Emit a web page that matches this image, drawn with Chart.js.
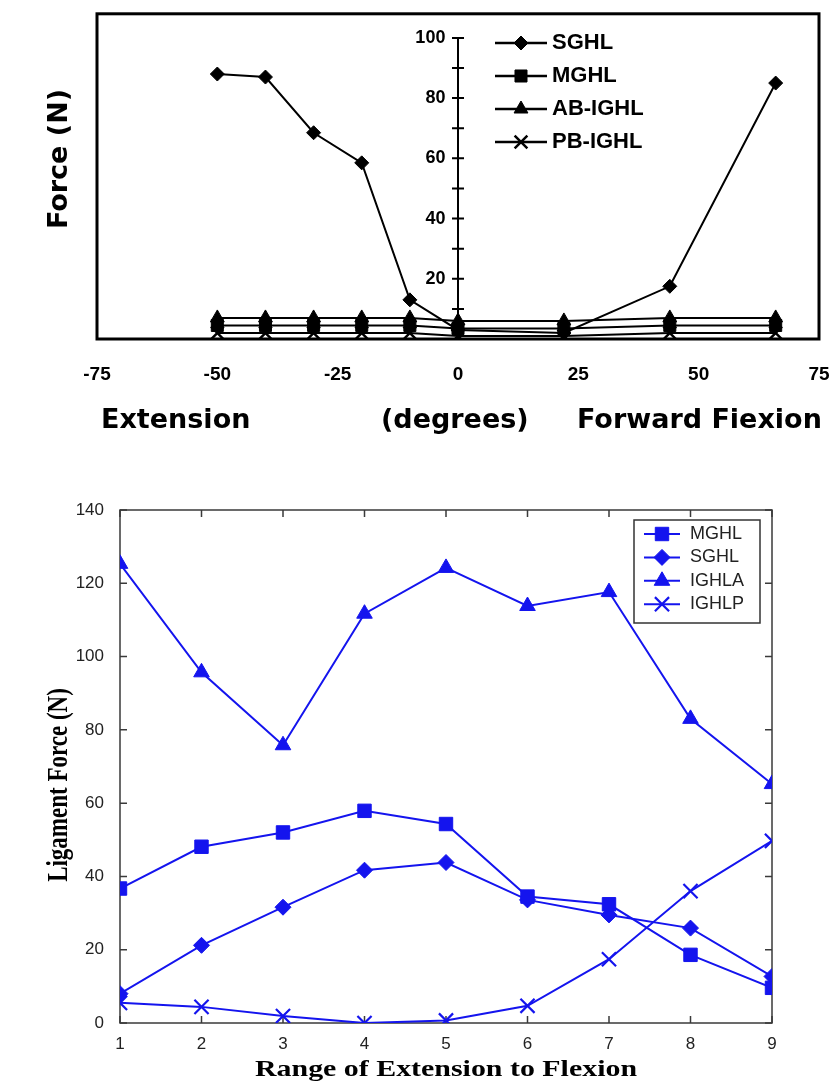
<!DOCTYPE html>
<html>
<head>
<meta charset="utf-8">
<script src="https://cdn.jsdelivr.net/npm/chart.js@4.4.1/dist/chart.umd.min.js"></script>
<style>
  body { margin: 0; background: #fff; width: 836px; height: 1085px; position: relative; overflow: hidden; }
  canvas { position: absolute; left: 0; }
  #angleChart { top: 0; }
  #rangeChart { top: 480px; }
</style>
</head>
<body>
<canvas id="angleChart" width="836" height="470" style="width:836px;height:470px"></canvas>
<canvas id="rangeChart" width="836" height="605" style="width:836px;height:605px"></canvas>
<script>
// upper plot: force per ligament against arm angle (degrees)
const angles = [-50, -40, -30, -20, -10, 0, 22, 44, 66];
const sghlByAngle = [88, 87, 68.5, 58.5, 13, 3, 2, 17.5, 85];
const mghlByAngle = [4.5, 4.5, 4.5, 4.5, 4.5, 3.5, 3.5, 4.5, 4.5];
const abIghlByAngle = [7, 7, 7, 7, 7, 6, 6, 7, 7];
const pbIghlByAngle = [2, 2, 2, 2, 2, 1, 1, 2, 2];
const angleTicks = [-75, -50, -25, 0, 25, 50, 75];

// lower plot: force per ligament over the extension -> flexion range
const rangeSteps = [1, 2, 3, 4, 5, 6, 7, 8, 9];
const mghlByStep = [36.7, 48.1, 52, 57.9, 54.3, 34.5, 32.4, 18.6, 9.6];
const sghlByStep = [8, 21.2, 31.6, 41.7, 43.8, 33.6, 29.5, 25.9, 12.7];
const ighlaByStep = [125.3, 95.7, 75.8, 111.7, 124.2, 113.8, 117.6, 83, 65.2];
const ighlpByStep = [5.5, 4.4, 1.9, 0, 0.7, 4.7, 17.4, 36, 49.7];

Chart.defaults.font.family = '"Liberation Sans", Arial, sans-serif';
Chart.defaults.animation = false;

const toXY = (xs, ys) => xs.map((x, i) => ({ x: x, y: ys[i] }));

// line + marker legend, drawn the way the old plotting packages did it
const lineLegend = {
  id: 'lineLegend',
  afterDraw(chart, args, opts) {
    const ctx = chart.ctx;
    ctx.save();
    if (opts.box) {
      ctx.fillStyle = '#fff';
      ctx.strokeStyle = opts.box.color;
      ctx.lineWidth = 1.5;
      ctx.fillRect(opts.box.left, opts.box.top, opts.box.width, opts.box.height);
      ctx.strokeRect(opts.box.left, opts.box.top, opts.box.width, opts.box.height);
    }
    chart.data.datasets.forEach((ds, i) => {
      const y = opts.y + i * opts.gap;
      ctx.strokeStyle = ds.borderColor;
      ctx.lineWidth = opts.lineWidth || ds.borderWidth;
      ctx.beginPath();
      ctx.moveTo(opts.x, y);
      ctx.lineTo(opts.x + opts.lineLen, y);
      ctx.stroke();
      ctx.fillStyle = ds.backgroundColor;
      ctx.lineWidth = ds.pointBorderWidth;
      Chart.helpers.drawPoint(ctx, {
        pointStyle: ds.pointStyle,
        radius: ds.pointRadius,
        borderWidth: ds.pointBorderWidth,
        rotation: 0
      }, opts.x + opts.lineLen / 2, y);
      ctx.fillStyle = opts.color;
      ctx.font = opts.font;
      ctx.textBaseline = 'middle';
      ctx.textAlign = 'left';
      ctx.fillText(ds.label, opts.x + opts.lineLen + opts.textGap, y);
    });
    ctx.restore();
  }
};

// frame, centre axis line and crossing ticks of the upper plot
const angleFrame = {
  id: 'angleFrame',
  beforeDatasetsDraw(chart) {
    const { ctx, chartArea: a } = chart;
    const xs = chart.scales.x, ys = chart.scales.y;
    ctx.save();
    ctx.strokeStyle = '#000';
    ctx.lineWidth = 3;
    ctx.strokeRect(a.left, a.top, a.right - a.left, a.bottom - a.top);
    const x0 = xs.getPixelForValue(0);
    ctx.lineWidth = 2;
    ctx.beginPath();
    ctx.moveTo(x0, ys.getPixelForValue(0));
    ctx.lineTo(x0, ys.getPixelForValue(100));
    ys.ticks.forEach(t => {
      if (t.value <= 0) return;
      const py = ys.getPixelForValue(t.value);
      ctx.moveTo(x0 - 6, py);
      ctx.lineTo(x0 + 6, py);
    });
    ctx.stroke();
    ctx.restore();
  },
  afterDraw(chart) {
    const ctx = chart.ctx;
    ctx.save();
    ctx.fillStyle = '#000';
    ctx.font = 'bold 27px "DejaVu Sans"';
    ctx.textBaseline = 'middle';
    ctx.textAlign = 'left';
    ctx.fillText('Extension', 101, 421);
    ctx.fillText('(degrees)', 381, 421);
    ctx.fillText('Forward Fiexion', 577, 421);
    ctx.translate(60, 159);
    ctx.rotate(-Math.PI / 2);
    ctx.textAlign = 'center';
    ctx.fillText('Force (N)', 0, 0);
    ctx.restore();
  }
};

const blackSeries = (label, xs, ys, style, r, bw) => ({
  label: label,
  data: toXY(xs, ys),
  borderColor: '#000',
  backgroundColor: '#000',
  borderWidth: 2,
  pointStyle: style,
  pointRadius: r,
  pointBorderWidth: bw,
  pointBackgroundColor: '#000',
  pointBorderColor: '#000',
  tension: 0
});

new Chart(document.getElementById('angleChart'), {
  type: 'line',
  data: {
    datasets: [
      blackSeries('SGHL', angles, sghlByAngle, 'rectRot', 7, 1),
      blackSeries('MGHL', angles, mghlByAngle, 'rect', 8.5, 1),
      blackSeries('AB-IGHL', angles, abIghlByAngle, 'triangle', 8, 1),
      blackSeries('PB-IGHL', angles, pbIghlByAngle, 'crossRot', 9, 2.5)
    ]
  },
  options: {
    responsive: false,
    layout: { padding: { left: 97, right: 17, top: 12, bottom: 0 } },
    plugins: {
      legend: { display: false },
      tooltip: { enabled: false },
      lineLegend: {
        x: 495, y: 43, gap: 33, lineLen: 52, textGap: 5, lineWidth: 2.5,
        font: 'bold 22px "Liberation Sans"', color: '#000'
      }
    },
    scales: {
      x: {
        type: 'linear',
        min: -75,
        max: 75,
        afterBuildTicks: s => { s.ticks = angleTicks.map(v => ({ value: v })); },
        afterFit: s => {
          s.height = 131;
          s.paddingLeft = 0;
          s.paddingRight = 0;
        },
        ticks: {
          padding: 16,
          autoSkip: false,
          maxRotation: 0,
          color: '#000',
          font: { size: 19, weight: 'bold' }
        },
        grid: { display: false },
        border: { display: false }
      },
      y: {
        type: 'linear',
        position: { x: 0 },
        min: 0,
        max: 108,
        ticks: {
          stepSize: 10,
          includeBounds: false,
          autoSkip: false,
          color: '#000',
          font: { size: 18, weight: 'bold' },
          // labels sit right against a centred axis, so pad them with spaces
          callback: v => (v > 0 && v % 20 === 0) ? v + '\u2002\u2009' : ''
        },
        grid: { display: false },
        border: { display: false }
      }
    }
  },
  plugins: [angleFrame, lineLegend]
});

// MATLAB style box: inward ticks on all four sides, axis titles
const matlabBox = {
  id: 'matlabBox',
  beforeDatasetsDraw(chart) {
    const { ctx, chartArea: a } = chart;
    const xs = chart.scales.x, ys = chart.scales.y;
    const tl = 7;
    ctx.save();
    ctx.strokeStyle = '#3a3a3a';
    ctx.lineWidth = 1.5;
    ctx.strokeRect(a.left, a.top, a.right - a.left, a.bottom - a.top);
    ctx.beginPath();
    xs.ticks.forEach(t => {
      const px = xs.getPixelForValue(t.value);
      ctx.moveTo(px, a.bottom); ctx.lineTo(px, a.bottom - tl);
      ctx.moveTo(px, a.top); ctx.lineTo(px, a.top + tl);
    });
    ys.ticks.forEach(t => {
      const py = ys.getPixelForValue(t.value);
      ctx.moveTo(a.left, py); ctx.lineTo(a.left + tl, py);
      ctx.moveTo(a.right, py); ctx.lineTo(a.right - tl, py);
    });
    ctx.stroke();
    ctx.restore();
  },
  afterDraw(chart) {
    const { ctx, chartArea: a } = chart;
    ctx.save();
    ctx.fillStyle = '#000';
    ctx.font = 'bold 23px "Liberation Serif"';
    ctx.textAlign = 'center';
    ctx.textBaseline = 'middle';
    ctx.save();
    ctx.translate((a.left + a.right) / 2, 590);
    ctx.scale(1.3, 1);
    ctx.fillText('Range of Extension to Flexion', 0, 0);
    ctx.restore();
    ctx.translate(60, 305);
    ctx.rotate(-Math.PI / 2);
    ctx.scale(1, 1.25);
    ctx.fillText('Ligament Force (N)', 0, 0);
    ctx.restore();
  }
};

const blue = '#1414ee';
const blueSeries = (label, ys, style, r, bw) => ({
  label: label,
  data: toXY(rangeSteps, ys),
  borderColor: blue,
  backgroundColor: blue,
  borderWidth: 2,
  pointStyle: style,
  pointRadius: r,
  pointBorderWidth: bw,
  pointBackgroundColor: blue,
  pointBorderColor: blue,
  tension: 0
});

new Chart(document.getElementById('rangeChart'), {
  type: 'line',
  data: {
    datasets: [
      blueSeries('MGHL', mghlByStep, 'rect', 9.5, 1),
      blueSeries('SGHL', sghlByStep, 'rectRot', 8, 1),
      blueSeries('IGHLA', ighlaByStep, 'triangle', 9, 1),
      blueSeries('IGHLP', ighlpByStep, 'crossRot', 10, 2.2)
    ]
  },
  options: {
    responsive: false,
    layout: { padding: { left: 0, right: 64, top: 30, bottom: 0 } },
    plugins: {
      legend: { display: false },
      tooltip: { enabled: false },
      lineLegend: {
        x: 644, y: 54, gap: 23.4, lineLen: 36, textGap: 10,
        font: '18px "Liberation Sans"', color: '#222',
        box: { left: 634, top: 40, width: 126, height: 103, color: '#333' }
      }
    },
    scales: {
      x: {
        type: 'linear',
        min: 1,
        max: 9,
        afterFit: s => { s.height = 62; },
        ticks: { stepSize: 1, padding: 3, color: '#222', font: { size: 17 }, maxRotation: 0 },
        grid: { display: false },
        border: { display: false }
      },
      y: {
        type: 'linear',
        min: 0,
        max: 140,
        afterFit: s => { s.width = 120; },
        ticks: { stepSize: 20, padding: 8, color: '#222', font: { size: 17 } },
        grid: { display: false },
        border: { display: false }
      }
    }
  },
  plugins: [matlabBox, lineLegend]
});
</script>
</body>
</html>
